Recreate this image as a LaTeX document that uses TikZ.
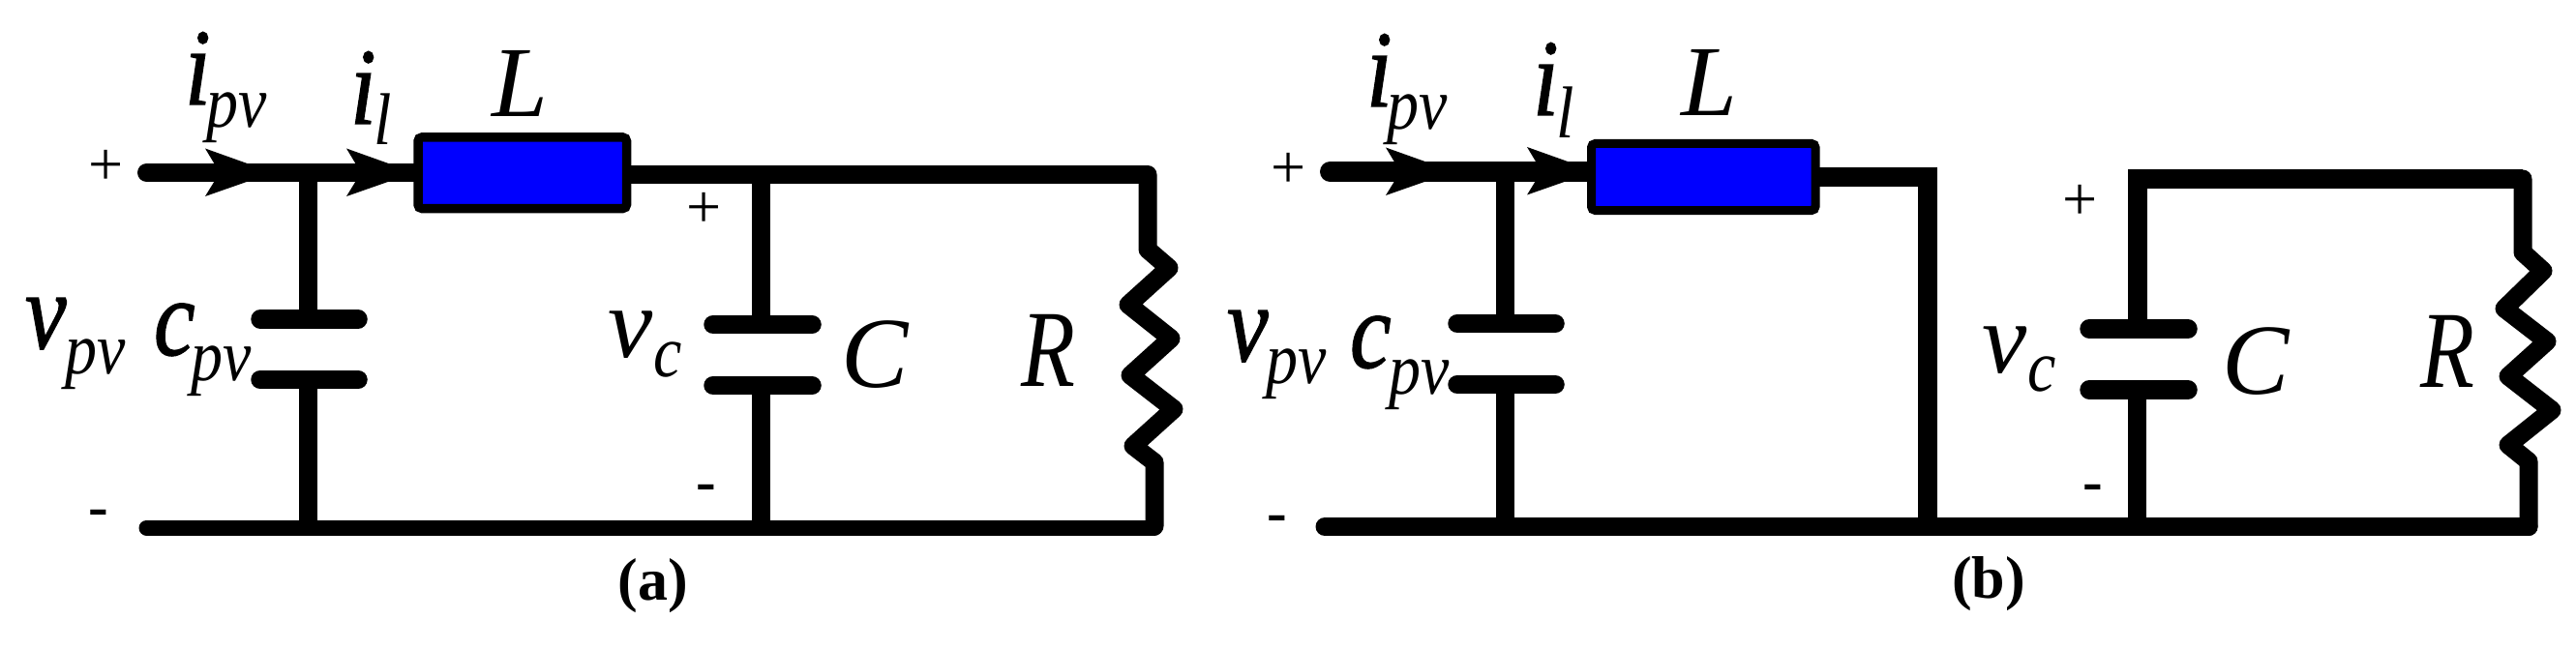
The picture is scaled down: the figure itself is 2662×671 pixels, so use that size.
\documentclass[tikz,border=0pt]{standalone}
\usepackage{graphicx}
\usepackage{fontspec}
\setmainfont{Liberation Serif}
\newfontfamily\hvfam[FakeBold=1.2]{Liberation Serif Italic}
\newcommand{\bigf}{\fontsize{104}{104}\selectfont\itshape}
\newcommand{\subf}{\fontsize{66}{66}\selectfont\itshape}
% heavy, narrow lower-case letter
\newcommand{\hv}[1]{\scalebox{.85}[1]{\fontsize{113}{113}\hvfam #1}}
% main letter, offset of the subscript, drop of the subscript, subscript
\newcommand{\symb}[4]{\makebox[#2pt][l]{#1}\raisebox{-#3pt}{\scalebox{1}[1.15]{\subf #4}}}
\newcommand{\rr}{\scalebox{.88}[1.09]{\bigf R}}
\newcommand{\ahead}[1]{\fill[black] (#1) -- ++(-70,-25) -- ++(15,25) -- ++(-15,24.5) -- cycle;}
\tikzset{
  wire/.style={line width=#1, line cap=round, line join=round, black},
  wire/.default=19pt,
  stem/.style={line width=19pt, line cap=butt, black},
  wcorner/.style={line width=20pt, line cap=butt, line join=miter, black},
  plate/.style={line width=19.5pt, line cap=round, black},
  lab/.style={anchor=base west, inner sep=0pt, outer sep=0pt, text=black},
  plussign/.style={anchor=center, inner sep=0pt, outer sep=0pt, font=\fontsize{64}{64}\selectfont, text=black},
  minussign/.style={anchor=center, inner sep=0pt, outer sep=0pt, font=\fontsize{62}{62}\selectfont\bfseries, text=black},
  ind/.style={draw=black, fill=blue, rounded corners=4pt, inner sep=0pt, outer sep=0pt, anchor=center},
  figcap/.style={anchor=base, inner sep=0pt, outer sep=0pt, font=\fontsize{62}{62}\selectfont\bfseries, text=black}
}
\begin{document}
\begin{tikzpicture}[x=1pt,y=-1pt]
\useasboundingbox (0,0) rectangle (2662,671);
\fill[white] (0,0) rectangle (2662,671);
%% ---------- panel (a)
\coordinate (aIn) at (151.5,178.5);
\coordinate (aBotL) at (151.5,545.7);
\coordinate (aBotR) at (1193,545.7);
\coordinate (aTopR) at (1186,180.5);
\coordinate (aJ1) at (318.5,178.5);
\coordinate (aJ1b) at (318.5,545.7);
\coordinate (aJ2) at (786.5,180.5);
\coordinate (aJ2b) at (786.5,545.7);
\coordinate (aP1) at (318.5,330);
\coordinate (aP2) at (318.5,392.5);
\coordinate (aP3) at (786.5,335.5);
\coordinate (aP4) at (786.5,398.5);
\coordinate (aP1l) at (269,330); \coordinate (aP1r) at (370,330);
\coordinate (aP2l) at (269,392.5); \coordinate (aP2r) at (370,392.5);
\coordinate (aP3l) at (737,335.5); \coordinate (aP3r) at (839,335.5);
\coordinate (aP4l) at (737,398.5); \coordinate (aP4r) at (839,398.5);
\coordinate (aLin) at (432,178.5);
\coordinate (aLout) at (647,180.5);
\draw[wire] (aIn) -- (aLin);
\draw[line width=19pt, black] (aLout) -- (aTopR);
\draw[wire=16pt] (aBotL) -- (aBotR);
\draw[stem] (aJ1) -- (aP1);
\draw[stem] (aP2) -- (aJ1b);
\draw[stem] (aJ2) -- (aP3);
\draw[stem] (aP4) -- (aJ2b);
\draw[plate] (aP1l) -- (aP1r);
\draw[plate] (aP2l) -- (aP2r);
\draw[plate] (aP3l) -- (aP3r);
\draw[plate] (aP4l) -- (aP4r);
\draw[wire] (aTopR) -- (1186,258) -- (1208,277) -- (1166,315) -- (1210,350) -- (1168,388) -- (1213,423) -- (1171,461) -- (1193,478) -- (1193,544);
\ahead{282,178.5}
\ahead{428,178.5}
\node[ind, line width=9.5pt, minimum width=215.5pt, minimum height=73.5pt] (aL) at (539.75,178.75) {};
\node[lab] (aipv) at (191,108) {\symb{\hv{i}}{22}{24}{pv}};
\node[lab] (ail) at (362,128) {\symb{\hv{i}}{24}{22}{l}};
\node[lab] (aLt) at (508,121) {\bigf L};
\node[lab] (avpv) at (26,360) {\symb{\hv{v}}{41}{26}{pv}};
\node[lab] (acpv) at (159,367) {\symb{\hv{c}}{38}{26}{pv}};
\node[lab] (avc) at (628,369) {\symb{\bigf v}{47}{20}{c}};
\node[lab] (aC) at (869,400) {\bigf C};
\node[lab] (aR) at (1055,399) {\rr};
\node[plussign] (ap1) at (110,173) {+};
\node[minussign] (am1) at (102,536) {-};
\node[plussign] (ap2) at (728,217) {+};
\node[minussign] (am2) at (730,510) {-};
\node[figcap] (acap) at (675,620) {(a)};
%% ---------- panel (b)
\coordinate (bIn) at (1374.5,177.5);
\coordinate (bBotL) at (1369,544.5);
\coordinate (bBotR) at (2613,544.5);
\coordinate (bStub) at (1992,183);
\coordinate (bStubB) at (1992,544.5);
\coordinate (bJ1) at (1555,177.5);
\coordinate (bJ1b) at (1555,544.5);
\coordinate (bTopL) at (2208.5,185);
\coordinate (bTopR) at (2607,185);
\coordinate (bJ2b) at (2208.5,544.5);
\coordinate (bP1) at (1555,334.5);
\coordinate (bP2) at (1555,397.5);
\coordinate (bP3) at (2208.5,340);
\coordinate (bP4) at (2208.5,403);
\coordinate (bP1l) at (1506,334.5); \coordinate (bP1r) at (1607,334.5);
\coordinate (bP2l) at (1506,397.5); \coordinate (bP2r) at (1607,397.5);
\coordinate (bP3l) at (2159,340); \coordinate (bP3r) at (2261,340);
\coordinate (bP4l) at (2159,403); \coordinate (bP4r) at (2261,403);
\coordinate (bLin) at (1644,177.5);
\coordinate (bLout) at (1876,183);
\draw[wire=21pt] (bIn) -- (bLin);
\draw[wcorner] (bLout) -- (bStub) -- (bStubB);
\draw[wire] (bBotL) -- (bBotR);
\draw[stem] (bJ1) -- (bP1);
\draw[stem] (bP2) -- (bJ1b);
\draw[wcorner] (bP3) -- (bTopL) -- (bTopR);
\draw[stem] (bP4) -- (bJ2b);
\draw[plate] (bP1l) -- (bP1r);
\draw[plate] (bP2l) -- (bP2r);
\draw[plate] (bP3l) -- (bP3r);
\draw[plate] (bP4l) -- (bP4r);
\draw[wire] (bTopR) -- (2607,261) -- (2628,280) -- (2588,319) -- (2632,353) -- (2592,389) -- (2637,424) -- (2592,460) -- (2613,477) -- (bBotR);
\ahead{1502,177.5}
\ahead{1648,177}
\node[ind, line width=9pt, minimum width=231.5pt, minimum height=69pt] (bL) at (1760.25,183) {};
\node[lab] (bipv) at (1412,110) {\symb{\hv{i}}{21}{24}{pv}};
\node[lab] (bil) at (1584,119) {\symb{\hv{i}}{24}{24}{l}};
\node[lab] (bLt) at (1737,120) {\bigf L};
\node[lab] (bvpv) at (1268,373) {\symb{\hv{v}}{40}{23}{pv}};
\node[lab] (bcpv) at (1395,380) {\symb{\hv{c}}{40}{27}{pv}};
\node[lab] (bvc) at (2048,385) {\symb{\bigf v}{47}{19}{c}};
\node[lab] (bC) at (2296,407) {\bigf C};
\node[lab] (bR) at (2501,400) {\rr};
\node[plussign] (bp1) at (1332,176) {+};
\node[minussign] (bm1) at (1320,542) {-};
\node[plussign] (bp2) at (2150,209) {+};
\node[minussign] (bm2) at (2163,510) {-};
\node[figcap] (bcap) at (2055,618) {(b)};
\end{tikzpicture}
\end{document}
